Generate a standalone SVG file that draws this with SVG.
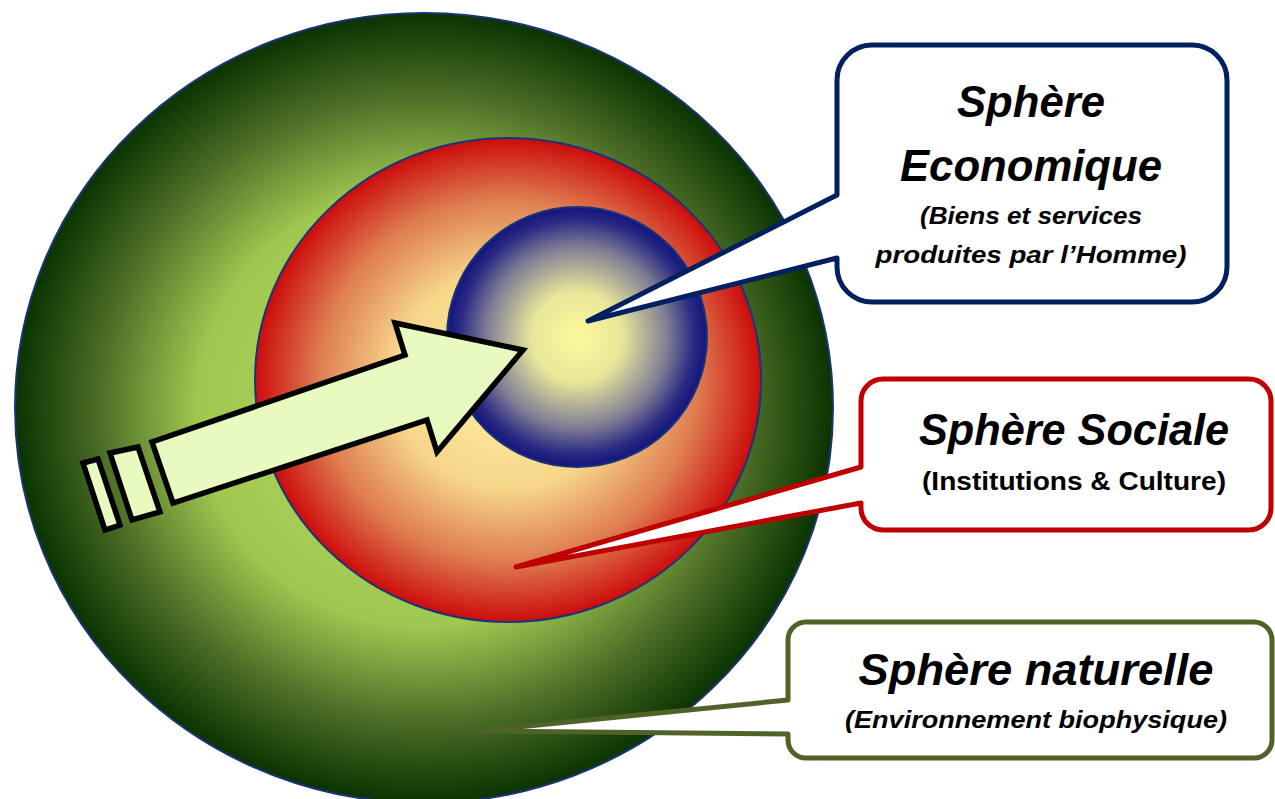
<svg xmlns="http://www.w3.org/2000/svg" width="1275" height="799" viewBox="0 0 1275 799">
  <defs>
    <radialGradient id="gGreen" cx="0.5" cy="0.5" r="0.5">
      <stop offset="0" stop-color="#b4dc64"/>
      <stop offset="0.55" stop-color="#a0c850"/>
      <stop offset="0.8" stop-color="#4a6c26"/>
      <stop offset="1" stop-color="#0a3300"/>
    </radialGradient>
    <radialGradient id="gRed" cx="0.5" cy="0.5" r="0.5">
      <stop offset="0" stop-color="#fff2a4"/>
      <stop offset="0.45" stop-color="#f6d68a"/>
      <stop offset="0.75" stop-color="#de7c50"/>
      <stop offset="1" stop-color="#cc0c0c"/>
    </radialGradient>
    <radialGradient id="gBlue" cx="0.5" cy="0.5" r="0.5">
      <stop offset="0" stop-color="#fcfb9a"/>
      <stop offset="0.35" stop-color="#e8e69a"/>
      <stop offset="0.7" stop-color="#7e7c94"/>
      <stop offset="0.9" stop-color="#2a2a84"/>
      <stop offset="1" stop-color="#14147c"/>
    </radialGradient>
  </defs>
  <style>
    .sphere { stroke: #1a3478; stroke-width: 2; }
    .arrow { fill: #e9fac0; stroke: #000; stroke-width: 5.5; stroke-linejoin: miter; }
    .callout { fill: #fff; stroke-width: 5; stroke-linejoin: round; }
    .title { font-family: "Liberation Sans", Arial, sans-serif; font-weight: bold; font-style: italic; font-size: 45px; fill: #000; text-anchor: middle; }
    .sub { font-family: "Liberation Sans", Arial, sans-serif; font-weight: bold; font-style: italic; font-size: 23px; fill: #000; text-anchor: middle; }
    .subup { font-family: "Liberation Sans", Arial, sans-serif; font-weight: bold; font-size: 25px; fill: #000; text-anchor: middle; }
  </style>
  <rect width="1275" height="799" fill="#fff"/>

  <g id="sphere-naturelle-shape">
    <ellipse class="sphere" cx="424" cy="408" rx="409" ry="395" fill="url(#gGreen)"/>
  </g>
  <g id="sphere-sociale-shape">
    <ellipse class="sphere" cx="508" cy="380" rx="253" ry="242" fill="url(#gRed)"/>
  </g>
  <g id="sphere-economique-shape">
    <circle class="sphere" cx="577" cy="337" r="130" fill="url(#gBlue)"/>
  </g>

  <g id="connectors">
    <polygon class="arrow" points="173,503 152,442 405,355 395,323 523,350 437,452 427,420"/>
    <polygon class="arrow" points="110,453 138,447 160,512 132,520"/>
    <polygon class="arrow" points="83,463 98,459 120,525 105,530"/>
  </g>

  <g id="callout-economique">
    <path class="callout" stroke="#002060" d="M 872 45 H 1192 A 35 35 0 0 1 1227 80 V 267 A 35 35 0 0 1 1192 302 H 872 A 35 35 0 0 1 837 267 V 258 L 588 321 L 837 195 V 80 A 35 35 0 0 1 872 45 Z"/>
    <text class="title" x="1031" y="117" textLength="148" lengthAdjust="spacingAndGlyphs">Sphère</text>
    <text class="title" x="1031" y="181" font-size="46" textLength="262" lengthAdjust="spacingAndGlyphs">Economique</text>
    <text class="sub" x="1031" y="224" textLength="222" lengthAdjust="spacingAndGlyphs">(Biens et services</text>
    <text class="sub" x="1031" y="263" textLength="311" lengthAdjust="spacingAndGlyphs">produites par l’Homme)</text>
  </g>

  <g id="callout-sociale">
    <path class="callout" stroke="#c00000" d="M 883 379 H 1249 A 22 22 0 0 1 1271 401 V 508 A 22 22 0 0 1 1249 530 H 883 A 22 22 0 0 1 861 508 V 503 L 516 567 L 861 467 V 401 A 22 22 0 0 1 883 379 Z"/>
    <text class="title" x="1074" y="445" font-size="44" textLength="310" lengthAdjust="spacingAndGlyphs">Sphère Sociale</text>
    <text class="subup" x="1074" y="490" font-size="26" textLength="304" lengthAdjust="spacingAndGlyphs">(Institutions &amp; Culture)</text>
  </g>

  <g id="callout-naturelle">
    <path class="callout" stroke="#4f6228" d="M 806 622 H 1254 A 18 18 0 0 1 1272 640 V 740 A 18 18 0 0 1 1254 758 H 806 A 18 18 0 0 1 788 740 V 734 L 478 731 L 788 700 V 640 A 18 18 0 0 1 806 622 Z"/>
    <text class="title" x="1036" y="685" font-size="44" textLength="355" lengthAdjust="spacingAndGlyphs">Sphère naturelle</text>
    <text class="sub" x="1036" y="728" font-size="24" textLength="382" lengthAdjust="spacingAndGlyphs">(Environnement biophysique)</text>
  </g>
</svg>
